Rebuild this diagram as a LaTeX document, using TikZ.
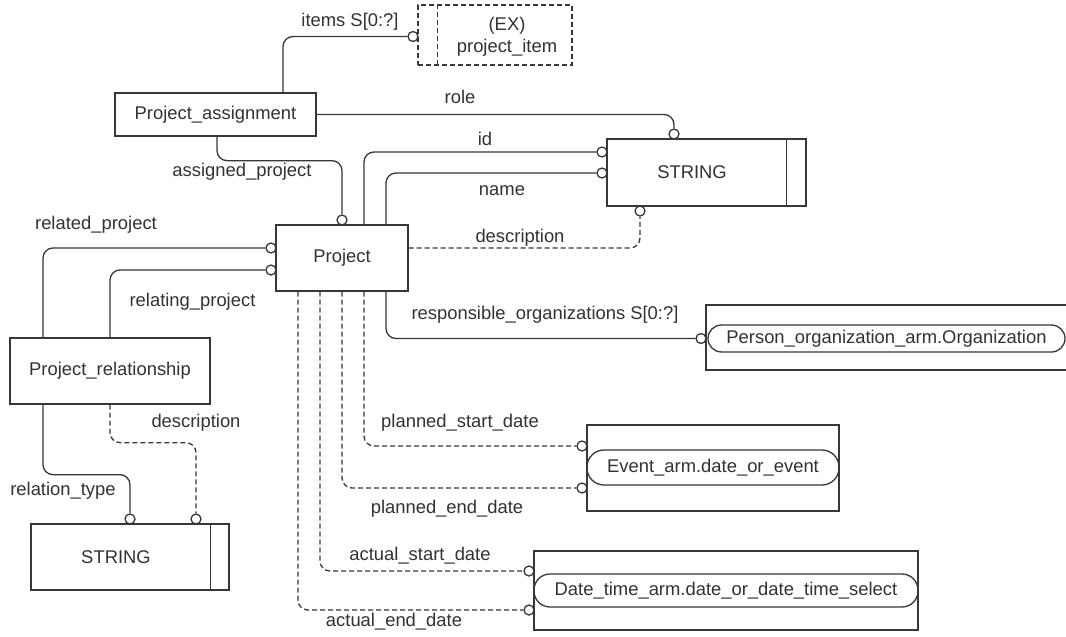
\documentclass[tikz,border=0pt]{standalone}
\usepackage{fontspec}
\setmainfont{Liberation Sans}
\usetikzlibrary{calc}
\definecolor{ln}{RGB}{55,55,55}
\definecolor{txt}{RGB}{50,50,50}
\tikzset{
  every node/.style={font=\fontsize{18.4}{22}\selectfont, text=txt},
  box/.style={draw=ln, line width=1.3pt, rectangle, inner sep=0pt},
  exbox/.style={box, dash pattern=on 5pt off 3pt},
  pill/.style={box, rounded corners=#1},
  circ/.style={draw=ln, fill=white, line width=1.3pt, circle, inner sep=0pt, minimum size=10pt},
  conn/.style={draw=ln, line width=1.3pt, rounded corners=10pt},
  opt/.style={conn, dash pattern=on 5pt off 3pt},
  lbl/.style={inner sep=0pt}
}
\begin{document}
\begin{tikzpicture}[x=1pt,y=-1pt]
\useasboundingbox (0,0) rectangle (1066,637);
\fill[white] (0,0) rectangle (1066,637);

% entities
\node[box, minimum width=201pt, minimum height=43pt] (pa) at (215.5,114.5) {Project\_assignment};
\node[exbox, minimum width=154pt, minimum height=60pt] (ex) at (495,35) {};
\draw[ln, line width=1.3pt, dash pattern=on 5pt off 3pt] ([xshift=20pt]ex.north west) -- ([xshift=20pt]ex.south west);
\node[lbl, align=center] (exl) at (507,37) {(EX)\\project\_item};

\node[box, minimum width=199pt, minimum height=67pt] (s1) at (706.5,172.5) {};
\draw[ln, line width=1.3pt] ([xshift=-20pt]s1.north east) -- ([xshift=-20pt]s1.south east);
\node[lbl] (s1l) at (692,172.5) {STRING};

\node[box, minimum width=132pt, minimum height=66pt] (p) at (342,258) {Project};
\node[box, minimum width=200pt, minimum height=66pt] (pr) at (110,371) {Project\_relationship};

\node[box, minimum width=198pt, minimum height=66pt] (s2) at (130,557) {};
\draw[ln, line width=1.3pt] ([xshift=-19pt]s2.north east) -- ([xshift=-19pt]s2.south east);
\node[lbl] (s2l) at (116,557) {STRING};

\begin{scope}
\clip (0,0) rectangle (1066,637);
\node[box, minimum width=420pt, minimum height=65pt] (pobox) at (916,337.5) {};
\end{scope}
\node[pill=13.5pt, minimum width=357pt, minimum height=27pt] (po) at (886.5,338.5) {Person\_organization\_arm.Organization};

\node[box, minimum width=252pt, minimum height=86pt] (evbox) at (713,468) {};
\node[pill=17pt, minimum width=252pt, minimum height=35pt] (ev) at (713,467.5) {Event\_arm.date\_or\_event};

\node[box, minimum width=384pt, minimum height=79pt] (dtbox) at (726,590.5) {};
\node[pill=16pt, minimum width=384pt, minimum height=33pt] (dt) at (726,590.5) {Date\_time\_arm.date\_or\_date\_time\_select};

% circles
\node[circ] (ci) at (413,36.5) {};
\node[circ] (crole) at (674,134) {};
\node[circ] (cid) at (602,152) {};
\node[circ] (cname) at (602,173) {};
\node[circ] (cdesc) at (640,211) {};
\node[circ] (cap) at (342,220) {};
\node[circ] (crel) at (271,248) {};
\node[circ] (crelg) at (271,270) {};
\node[circ] (cresp) at (701,338.5) {};
\node[circ] (cps) at (582,446) {};
\node[circ] (cpe) at (582,488) {};
\node[circ] (cas) at (529,571) {};
\node[circ] (cae) at (529,610) {};
\node[circ] (crt) at (130,519) {};
\node[circ] (crd) at (196,519) {};

% connectors
\draw[conn] ([xshift=67.5pt]pa.north) |- (ci.west);
\draw[conn] (pa.east) -| (crole.north);
\draw[conn] ([xshift=22pt]p.north) |- (cid.west);
\draw[conn] ([xshift=44pt]p.north) |- (cname.west);
\draw[conn] ([xshift=1.5pt]pa.south) -- ++(0,24) -| (cap.north);
\draw[opt] ([yshift=10pt]p.east) -| (cdesc.south);
\draw[conn] ([xshift=44pt]p.south) |- (cresp.west);
\draw[conn] ([xshift=-67pt]pr.north) |- (crel.west);
\draw[conn] (pr.north) |- (crelg.west);
\draw[opt] ([xshift=22pt]p.south) |- (cps.west);
\draw[opt] (p.south) |- (cpe.west);
\draw[opt] ([xshift=-22pt]p.south) |- (cas.west);
\draw[opt] ([xshift=-44pt]p.south) |- (cae.west);
\draw[conn] ([xshift=-67pt]pr.south) -- ++(0,70) -| (crt.north);
\draw[opt] (pr.south) -- ++(0,38) -| (crd.north);

% labels
\node[lbl] (l1) at (350,22) {items S[0:?]};
\node[lbl] (l2) at (460,97) {role};
\node[lbl] (l3) at (485,139) {id};
\node[lbl] (l4) at (502,191) {name};
\node[lbl] (l5) at (242,172) {assigned\_project};
\node[lbl] (l6) at (520,238) {description};
\node[lbl] (l7) at (545,315) {responsible\_organizations S[0:?]};
\node[lbl] (l8) at (96,225) {related\_project};
\node[lbl] (l9) at (192.5,302) {relating\_project};
\node[lbl] (l10) at (196,423) {description};
\node[lbl] (l11) at (63,491) {relation\_type};
\node[lbl] (l12) at (460,423) {planned\_start\_date};
\node[lbl] (l13) at (447,509) {planned\_end\_date};
\node[lbl] (l14) at (420,556) {actual\_start\_date};
\node[lbl] (l15) at (394,622) {actual\_end\_date};
\end{tikzpicture}
\end{document}
